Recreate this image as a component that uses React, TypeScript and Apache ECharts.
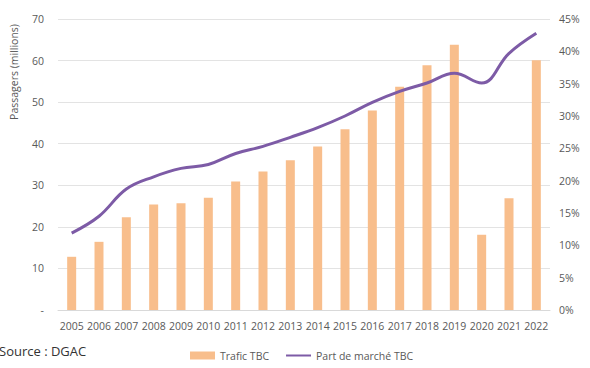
import React, { useEffect, useRef } from "react";
import * as echarts from "echarts";

const years = ["2005","2006","2007","2008","2009","2010","2011","2012","2013","2014","2015","2016","2017","2018","2019","2020","2021","2022"];
const trafic = [12.8, 16.4, 22.3, 25.4, 25.7, 27.0, 30.9, 33.3, 36.0, 39.3, 43.5, 48.0, 53.7, 58.9, 63.8, 18.1, 26.9, 60.1];
const partMarche = [11.9, 14.5, 18.7, 20.6, 21.9, 22.5, 24.2, 25.3, 26.7, 28.2, 30.0, 32.1, 33.8, 35.1, 36.6, 35.1, 39.7, 42.8];

const FONT = "'Open Sans', sans-serif";
const GRAY = "#595959";

export default function App() {
  const ref = useRef<HTMLDivElement>(null);
  useEffect(() => {
    const chart = echarts.init(ref.current!, null, { renderer: "svg" });
    chart.setOption({
      animation: false,
      backgroundColor: "#ffffff",
      grid: { left: 58, right: 40, top: 19, bottom: 58 },
      xAxis: {
        type: "category",
        data: years,
        axisLine: { show: true, lineStyle: { color: "#D9D9D9" } },
        axisTick: { show: false },
        axisLabel: { color: GRAY, fontFamily: FONT, fontSize: 10.5, margin: 10, interval: 0 },
      },
      yAxis: [
        {
          type: "value",
          min: 0,
          max: 70,
          interval: 10,
          axisLine: { show: false },
          axisTick: { show: false },
          splitLine: { lineStyle: { color: "#E3E3E3" } },
          axisLabel: {
            color: GRAY,
            fontFamily: FONT,
            fontSize: 10.5,
            margin: 14,
            formatter: (v: number) => (v === 0 ? "-" : String(v)),
          },
        },
        {
          type: "value",
          min: 0,
          max: 45,
          interval: 5,
          position: "right",
          axisLine: { show: false },
          axisTick: { show: false },
          splitLine: { show: false },
          axisLabel: { color: GRAY, fontFamily: FONT, fontSize: 10.5, margin: 9, formatter: "{value}%" },
        },
      ],
      legend: {
        left: 185,
        top: 345,
        itemGap: 16,
        itemWidth: 25,
        itemHeight: 8,
        textStyle: { color: GRAY, fontFamily: FONT, fontSize: 10.5 },
        data: [
          { name: "Trafic TBC", icon: "rect" },
          { name: "Part de marché TBC", itemStyle: { opacity: 0 } },
        ],
      },
      graphic: [
        {
          type: "text",
          x: 14,
          y: 72,
          rotation: Math.PI / 2,
          style: {
            text: "Passagers (millions)",
            fill: GRAY,
            font: `10.5px ${FONT}`,
            textAlign: "center",
            textVerticalAlign: "middle",
          },
        },
        {
          type: "text",
          left: -1,
          top: 344,
          style: { text: "Source : DGAC", fill: "#333333", font: `13px ${FONT}` },
        },
      ],
      series: [
        {
          name: "Trafic TBC",
          type: "bar",
          data: trafic,
          barWidth: 9,
          itemStyle: { color: "#F8BE8C" },
          z: 2,
        },
        {
          name: "Part de marché TBC",
          type: "line",
          yAxisIndex: 1,
          data: partMarche,
          smooth: 0.4,
          symbol: "none",
          lineStyle: { color: "#7D5BA6", width: 3 },
          itemStyle: { color: "#7D5BA6" },
          z: 3,
        },
      ],
    });
    return () => chart.dispose();
  }, []);
  return <div ref={ref} style={{ width: 590, height: 368, position: "absolute", left: 0, top: 0 }} />;
}
